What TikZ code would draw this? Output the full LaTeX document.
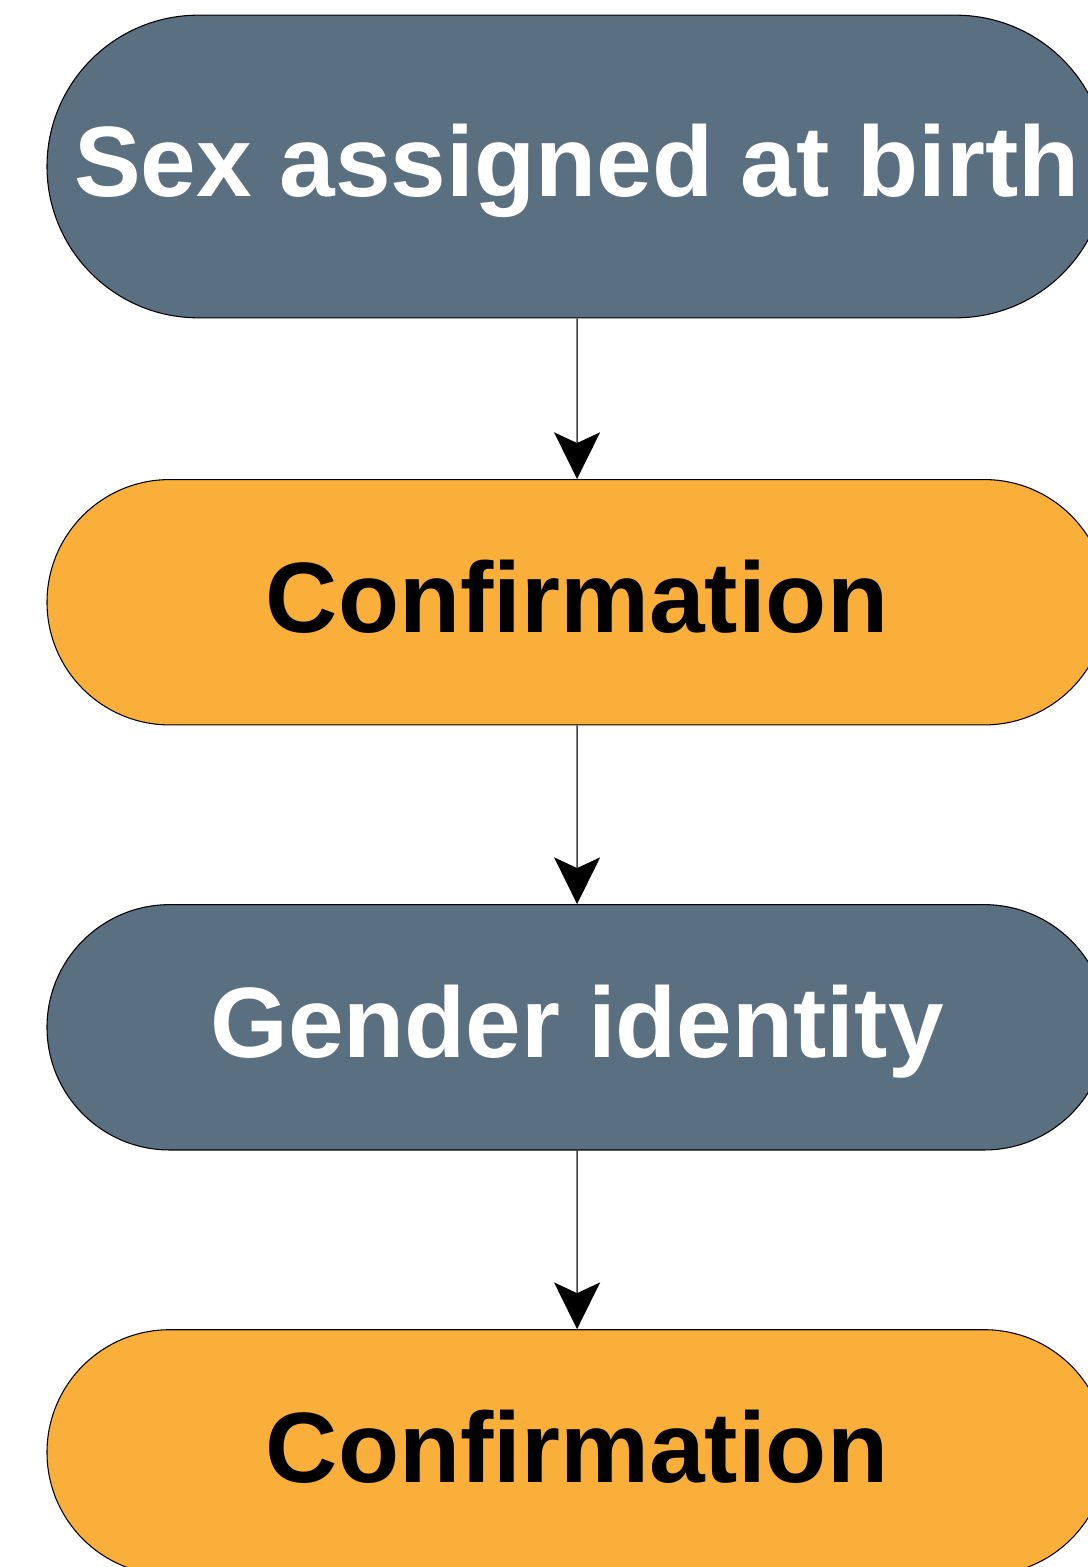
\documentclass[tikz,border=0pt]{standalone}
\usepackage{fontspec}
\setmainfont{Liberation Sans}
\usetikzlibrary{arrows.meta,shapes.misc,positioning}
\definecolor{identityColor}{RGB}{90,111,128}
\definecolor{confirmColor}{RGB}{250,175,59}
\tikzset{stage/.style={rounded rectangle, draw=black, line width=0.8pt, minimum width=795pt, minimum height=184pt, inner sep=0pt, font=\fontsize{75}{90}\selectfont\bfseries, text height=54pt, text depth=9pt}}
\tikzset{identity/.style={stage, fill=identityColor, text=white}}
\tikzset{confirm/.style={stage, fill=confirmColor, text=black}}

\begin{document}
\begin{tikzpicture}[x=0.75pt, y=-0.75pt, node distance=134pt]
	\useasboundingbox (0,0) rectangle (1088,1567);
	% Nodes
		\node (sex) [identity, minimum height=227pt] at (577,166.5) {Sex assigned at birth};
		\node (confirmfirst) [confirm, below=120.5pt of sex] {Confirmation};
		\node (gender) [identity, below=of confirmfirst] {Gender identity};
		\node (confirmsecond) [confirm, below=of gender] {Confirmation};

	% Connectors
	\begin{scope}[draw=black!75, line width=1.1pt]
		\draw [-{Stealth[length=35pt, width=34.5pt, inset=8pt, black]}] (sex) -- (confirmfirst);
		\draw [-{Stealth[length=35pt, width=34.5pt, inset=8pt, black]}] (confirmfirst) -- (gender);
		\draw [-{Stealth[length=35pt, width=34.5pt, inset=8pt, black]}] (gender) -- (confirmsecond);
	\end{scope}
\end{tikzpicture}
\end{document}
